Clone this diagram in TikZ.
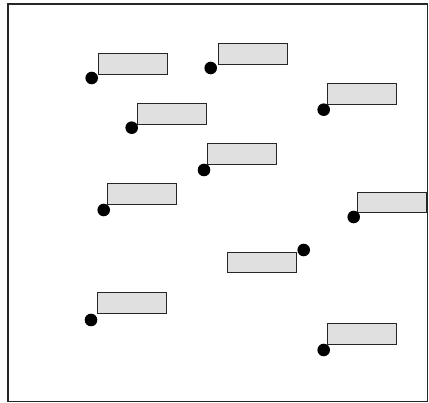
\documentclass[tikz,border=0pt]{standalone}
\begin{document}
\begin{tikzpicture}[x=1pt,y=1pt,
  box/.style={draw=black!85, line width=0.9pt, fill=black!12, rectangle, minimum width=69pt, minimum height=20.5pt, inner sep=0pt},
  dot/.style={circle, fill=black, draw=none, minimum size=12.6pt, inner sep=0pt},
  frame/.style={draw=black!85, line width=1.3pt}]
\useasboundingbox (0,0) rectangle (429,403);
\draw[frame] (8,1.5) rectangle (427.8,399);
\node[box] (r1) at (132.5,339) {};
\node[dot] (d1) at (91.7,325) {};
\node[box] (r2) at (252.5,349) {};
\node[dot] (d2) at (210.7,335) {};
\node[box] (r3) at (362.2,308.8) {};
\node[dot] (d3) at (323.7,293.3) {};
\node[box] (r4) at (172.2,289.2) {};
\node[dot] (d4) at (131.7,275.3) {};
\node[box] (r5) at (242.2,249) {};
\node[dot] (d5) at (204,233) {};
\node[box] (r6) at (142.2,209) {};
\node[dot] (d6) at (103.7,193) {};
\node[box] (r7) at (392.2,200.3) {};
\node[dot] (d7) at (353.7,186) {};
\node[box] (r8) at (262.2,140.3) {};
\node[dot] (d8) at (303.7,153) {};
\node[box] (r9) at (132.2,100.2) {};
\node[dot] (d9) at (91,83) {};
\node[box] (r10) at (362.2,68.8) {};
\node[dot] (d10) at (323.7,53) {};
\end{tikzpicture}
\end{document}
